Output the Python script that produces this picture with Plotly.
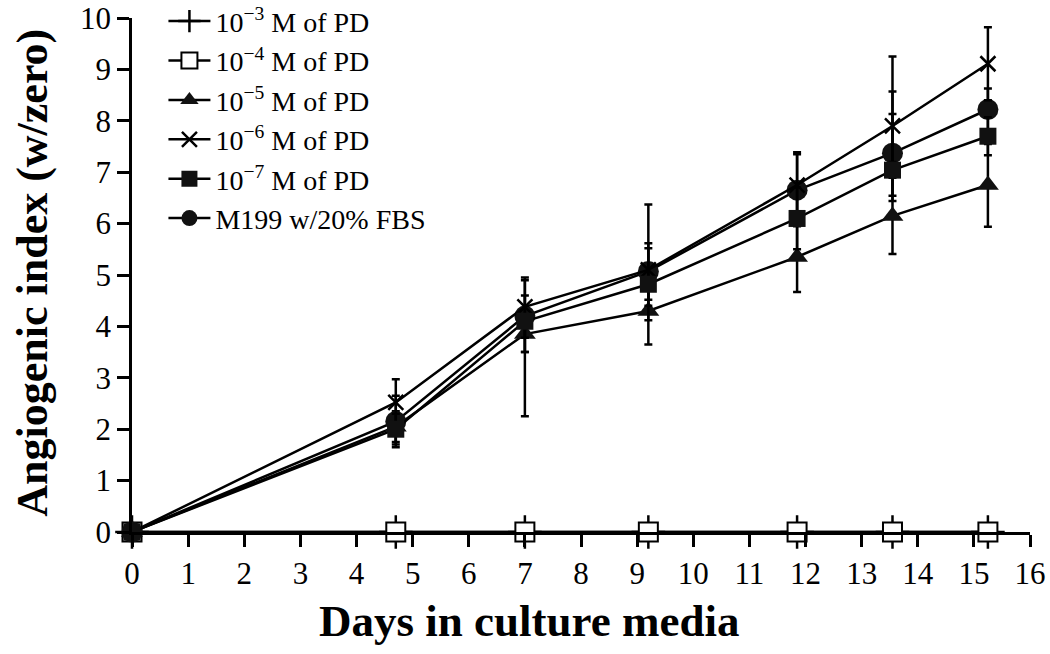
import plotly.graph_objects as go

# ---- data ----
days = [0, 4.7, 7.0, 9.2, 11.85, 13.55, 15.25]

pd_1e3 = [0, 0, 0, 0, 0, 0, 0]
pd_1e4 = [0, 0, 0, 0, 0, 0, 0]

pd_1e5 = [0, 2.05, 3.85, 4.30, 5.35, 6.15, 6.75]
pd_1e5_up = [0, 0.30, 0.50, 0.50, 0.65, 0.74, 0.80]
pd_1e5_dn = [0, 0.30, 1.60, 0.65, 0.68, 0.74, 0.81]

pd_1e6 = [0, 2.52, 4.38, 5.10, 6.75, 7.90, 9.11]
pd_1e6_up = [0, 0.45, 0.57, 1.27, 0.64, 1.35, 0.71]
pd_1e6_dn = [0, 0.45, 0.60, 0.70, 0.64, 0.70, 0.71]

pd_1e7 = [0, 2.00, 4.10, 4.82, 6.10, 7.04, 7.70]
pd_1e7_up = [0, 0.30, 0.50, 0.70, 0.60, 1.09, 0.37]
pd_1e7_dn = [0, 0.30, 0.60, 0.70, 0.60, 0.60, 0.37]

m199 = [0, 2.15, 4.20, 5.07, 6.65, 7.37, 8.22]
m199_up = [0, 0.50, 0.70, 0.55, 0.70, 1.20, 0.41]
m199_dn = [0, 0.50, 0.70, 0.55, 0.70, 0.83, 0.41]

x_ticks = list(range(0, 17))
y_ticks = list(range(0, 11))

names = [
    "10<sup>\u22123</sup> M of PD",
    "10<sup>\u22124</sup> M of PD",
    "10<sup>\u22125</sup> M of PD",
    "10<sup>\u22126</sup> M of PD",
    "10<sup>\u22127</sup> M of PD",
    "M199 w/20% FBS",
]
x_title = "Days in culture media"
y_title = "Angiogenic index (w/zero)"

FONT = "Liberation Serif"
LW = 2.5

def err(up, dn):
    return dict(type="data", symmetric=False, array=up, arrayminus=dn,
                color="black", thickness=LW, width=4)

fig = go.Figure()

fig.add_trace(go.Scatter(
    x=days, y=pd_1e3, name=names[0], legendrank=1, mode="lines+markers",
    line=dict(color="black", width=LW),
    marker=dict(symbol="cross-thin", size=24, color="black",
                line=dict(color="black", width=LW)),
    cliponaxis=False))

fig.add_trace(go.Scatter(
    x=days, y=pd_1e4, name=names[1], legendrank=2, mode="lines+markers",
    line=dict(color="black", width=LW),
    marker=dict(symbol="square", size=19, color="white",
                line=dict(color="black", width=2)),
    cliponaxis=False))

fig.add_trace(go.Scatter(
    x=days, y=pd_1e5, name=names[2], legendrank=3, mode="lines+markers",
    line=dict(color="black", width=LW),
    marker=dict(symbol="triangle-up", size=19, color="#111111"),
    error_y=err(pd_1e5_up, pd_1e5_dn), cliponaxis=False))

fig.add_trace(go.Scatter(
    x=days, y=m199, name=names[5], legendrank=6, mode="lines+markers",
    line=dict(color="black", width=LW),
    marker=dict(symbol="circle", size=21, color="#111111"),
    error_y=err(m199_up, m199_dn), cliponaxis=False))

fig.add_trace(go.Scatter(
    x=days, y=pd_1e6, name=names[3], legendrank=4, mode="lines+markers",
    line=dict(color="black", width=LW),
    marker=dict(symbol="x-thin", size=15, color="black",
                line=dict(color="black", width=LW)),
    error_y=err(pd_1e6_up, pd_1e6_dn), cliponaxis=False))

fig.add_trace(go.Scatter(
    x=days, y=pd_1e7, name=names[4], legendrank=5, mode="lines+markers",
    line=dict(color="black", width=LW),
    marker=dict(symbol="square", size=17, color="#111111"),
    error_y=err(pd_1e7_up, pd_1e7_dn), cliponaxis=False))

axis_common = dict(showline=True, linecolor="black", linewidth=LW,
                   ticks="outside", ticklen=12, tickwidth=LW,
                   tickcolor="black", showgrid=False, zeroline=False,
                   automargin=False, ticklabeloverflow="allow",
                   tickfont=dict(family=FONT, size=31))

fig.update_layout(
    width=1050, height=654, autosize=False,
    margin=dict(l=132, r=20, t=18, b=122, autoexpand=False),
    paper_bgcolor="white", plot_bgcolor="white",
    font=dict(family=FONT, color="black", size=28),
    showlegend=True,
    legend=dict(x=0.035, y=1.042, xanchor="left", yanchor="top",
                bgcolor="rgba(0,0,0,0)", font=dict(family=FONT, size=28),
                itemwidth=42, tracegroupgap=0),
    xaxis=dict(range=[0, 16], tickvals=x_ticks, **axis_common),
    yaxis=dict(range=[0, 10], tickvals=y_ticks, **axis_common),
    annotations=[
        dict(text="<b>" + x_title + "</b>", xref="paper", yref="paper",
             x=0.442, y=-0.173, xanchor="center", yanchor="middle",
             showarrow=False, font=dict(family=FONT, size=45)),
        dict(text="<b>" + y_title + "</b>", xref="paper", yref="paper",
             x=-0.111, y=0.505, xanchor="center", yanchor="middle",
             textangle=-90, showarrow=False,
             font=dict(family=FONT, size=44)),
    ],
)

fig.write_html("out.html",
               config={"displayModeBar": False},
               post_script="document.body.style.margin='0px';")
